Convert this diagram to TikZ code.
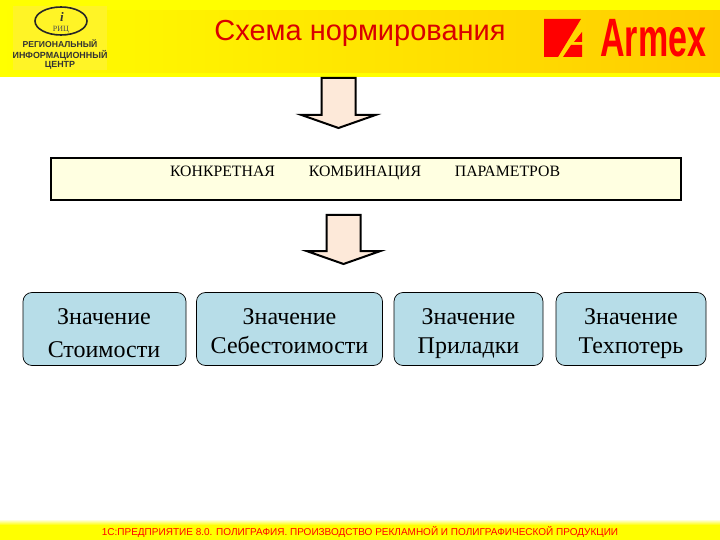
\documentclass[tikz,border=0pt]{standalone}
\usepackage{fontspec}
\setmainfont{Liberation Serif}
\newfontfamily\headfont{Liberation Sans}
\usetikzlibrary{
  calc, % For coordinate calculations
  arrows.meta
}
\definecolor{bandyellow}{RGB}{255,255,0}
\definecolor{bandorange}{RGB}{255,204,0}
\definecolor{boxblue}{RGB}{183,221,232}
\definecolor{boxcream}{RGB}{255,255,225}
\definecolor{arrowpeach}{RGB}{253,233,217}
\definecolor{logored}{RGB}{255,0,0}

\begin{document}
\begin{tikzpicture}[
      x=1pt, y=-1pt,
      valuebox/.style={draw=black, fill=boxblue, rounded corners=9pt, line width=0.7pt,
        minimum height=73pt},
      valuetext/.style={anchor=base, font=\fontsize{24}{28}\selectfont},
      paramtext/.style={font=\fontsize{15.8}{18}\selectfont, anchor=base},
      blockarrow/.style={draw=black, fill=arrowpeach, line width=2pt, miter limit=10},
      logotext/.style={font=\headfont\bfseries\fontsize{8.9}{10}\selectfont, text=black!80},
    ]
    \useasboundingbox (0,0) rectangle (720,540);

    % Kopfband
    \fill[bandyellow] (0,0) rectangle (720,77);
    \shade[left color=bandyellow, right color=bandorange] (0,11) rectangle (720,73);
    \fill[bandyellow] (0,8) rectangle (720,10);

    % Fussband
    \shade[top color=white, bottom color=bandyellow] (0,519) rectangle (720,525);
    \fill[bandyellow] (0,525) rectangle (720,540);
    \node[text=logored, font=\headfont\fontsize{10}{12}\selectfont] (footer) at (360,532)
      {1С:ПРЕДПРИЯТИЕ 8.0. ПОЛИГРАФИЯ. ПРОИЗВОДСТВО РЕКЛАМНОЙ И ПОЛИГРАФИЧЕСКОЙ ПРОДУКЦИИ};

    % Logo links
    \fill[yellow!85!white] (13,6) rectangle (107,70);
    \draw[black!85, line width=1.6pt] (61,21) ellipse (26 and 14);
    \node[inner sep=0pt, font=\bfseries\itshape\fontsize{13}{13}\selectfont, text=black!80] (logoi) at (62,17) {i};
    \node[inner sep=0pt, font=\fontsize{8}{8}\selectfont, text=black!70] (logorits) at (61,29.5) {РИЦ};
    \node[logotext, font=\headfont\bfseries\fontsize{8.6}{10}\selectfont] (logoone) at (60,44) {РЕГИОНАЛЬНЫЙ};
    \node[logotext] (logotwo) at (60,55) {ИНФОРМАЦИОННЫЙ};
    \node[logotext] (logothree) at (60,65) {ЦЕНТР};

    % Titel
    \node[text=logored!85!black, font=\headfont\fontsize{29}{32}\selectfont] (title) at (360,33)
      {Схема нормирования};

    % Logo rechts
    \fill[logored] (544,19) -- (581,19) -- (558,57) -- (544,57) -- cycle;
    \fill[logored] (582,32) -- (582,42) -- (574,42) -- cycle;
    \fill[logored] (571,45) -- (582,45) -- (582,57) -- (563,57) -- cycle;
    \node[text=logored, font=\headfont\bfseries\fontsize{54}{54}\selectfont, xscale=0.63, anchor=base west] (armex) at (598,57) {Armex};

    % Pfeile
    \foreach \ax/\ay/\by in {338.5/78/128, 343.5/215/264}
    \draw[blockarrow] ($(\ax-17,\ay)$) -- ($(\ax+17,\ay)$) -- ($(\ax+17,\by-13)$) -- ($(\ax+37,\by-13)$)
      -- ($(\ax,\by)$) -- ($(\ax-37,\by-13)$) -- ($(\ax-17,\by-13)$) -- cycle;

    % Parameterleiste
    \draw[black, fill=boxcream, line width=1.5pt] (51,158) rectangle (681,200);
    \node[paramtext] (konkret) at (222.5,177) {КОНКРЕТНАЯ};
    \node[paramtext] (kombi) at (365,177) {КОМБИНАЦИЯ};
    \node[paramtext] (param) at (507.5,177) {ПАРАМЕТРОВ};

    % Werte
    \node[valuebox, minimum width=163pt] (cost) at (104.5,329) {};
    \node[valuebox, minimum width=186pt] (selfcost) at (289.5,329) {};
    \node[valuebox, minimum width=149pt] (setup) at (468.5,329) {};
    \node[valuebox, minimum width=150pt] (waste) at (631,329) {};

    \node[valuetext] (costone) at (104,324) {Значение};
    \node[valuetext] (costtwo) at (104,357) {Стоимости};
    \node[valuetext] (selfcostone) at (289.5,324) {Значение};
    \node[valuetext] (selfcosttwo) at (289.5,353) {Себестоимости};
    \node[valuetext] (setupone) at (468.5,324) {Значение};
    \node[valuetext] (setuptwo) at (468.5,353) {Приладки};
    \node[valuetext] (wasteone) at (631,324) {Значение};
    \node[valuetext] (wastetwo) at (631,353) {Техпотерь};
  \end{tikzpicture}
\end{document}
